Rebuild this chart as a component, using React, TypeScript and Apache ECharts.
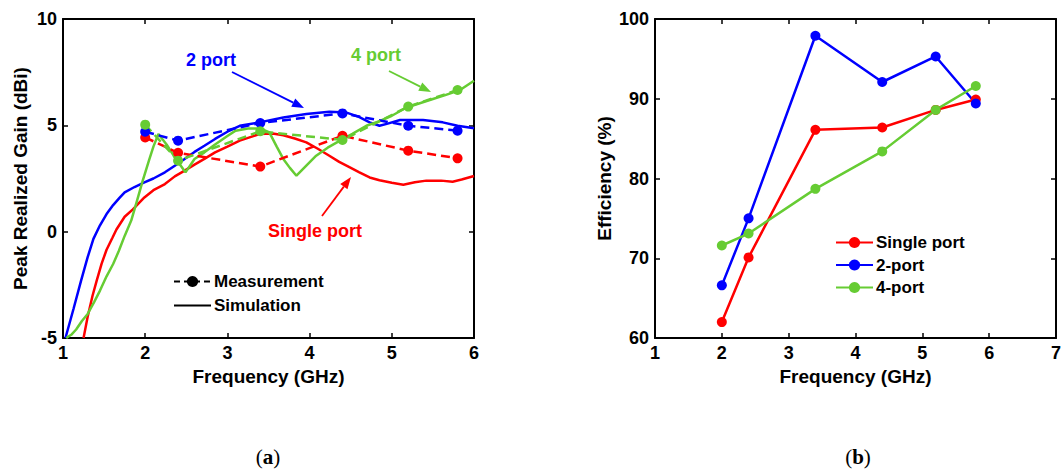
import React, { useEffect, useRef } from "react";
import * as echarts from "echarts";

// ---------- data ----------
const measFreq = [2, 2.4, 3.4, 4.4, 5.2, 5.8];
const gainMeasSingle = [4.43, 3.71, 3.06, 4.51, 3.81, 3.45];
const gainMeas2 = [4.7, 4.28, 5.11, 5.56, 4.98, 4.75];
const gainMeas4 = [5.03, 3.34, 4.72, 4.31, 5.88, 6.66];

const simSingle: [number, number][] = [
  [1.25, -5], [1.3, -4.0], [1.36, -3.0], [1.41, -2.3], [1.47, -1.5], [1.53, -0.85],
  [1.6, -0.3], [1.65, 0.1], [1.75, 0.7], [1.85, 1.05], [1.99, 1.61], [2.1, 1.95],
  [2.24, 2.24], [2.36, 2.6], [2.48, 2.87], [2.6, 3.15], [2.72, 3.42], [2.85, 3.73],
  [3.0, 4.0], [3.15, 4.28], [3.39, 4.59], [3.55, 4.62], [3.68, 4.53], [3.82, 4.38],
  [3.96, 4.2], [4.1, 3.9], [4.24, 3.57], [4.36, 3.28], [4.49, 3.02], [4.6, 2.8],
  [4.73, 2.55], [4.85, 2.42], [5.0, 2.3], [5.14, 2.21], [5.28, 2.32], [5.42, 2.4],
  [5.6, 2.4], [5.74, 2.35], [5.85, 2.45], [6.0, 2.62],
];
const sim2: [number, number][] = [
  [1.03, -5], [1.13, -3.6], [1.22, -2.3], [1.3, -1.2], [1.37, -0.34], [1.45, 0.3],
  [1.53, 0.83], [1.61, 1.25], [1.69, 1.6], [1.75, 1.85], [1.87, 2.1], [1.99, 2.32],
  [2.1, 2.5], [2.24, 2.79], [2.36, 3.1], [2.48, 3.42], [2.6, 3.75], [2.72, 4.04],
  [2.85, 4.36], [3.0, 4.7], [3.15, 4.98], [3.39, 5.14], [3.68, 5.37], [3.96, 5.53],
  [4.24, 5.64], [4.45, 5.6], [4.6, 5.4], [4.73, 5.14], [4.85, 4.98], [4.95, 5.08],
  [5.1, 5.25], [5.38, 5.25], [5.62, 5.14], [5.8, 4.98], [6.0, 4.86],
];
const sim4: [number, number][] = [
  [1.04, -5], [1.1, -4.85], [1.16, -4.6], [1.23, -4.2], [1.3, -3.87], [1.38, -3.3],
  [1.45, -2.77], [1.53, -2.1], [1.61, -1.52], [1.68, -0.9], [1.75, -0.2], [1.83, 0.52],
  [1.9, 1.45], [1.97, 2.4], [2.05, 3.4], [2.1, 4.0], [2.16, 4.59], [2.26, 4.1],
  [2.36, 3.49], [2.49, 2.79], [2.6, 3.42], [2.72, 3.73], [2.85, 4.1], [3.0, 4.5],
  [3.1, 4.75], [3.25, 4.85], [3.4, 4.85], [3.51, 4.67], [3.6, 4.0], [3.68, 3.42],
  [3.76, 3.0], [3.84, 2.63], [3.96, 3.1], [4.08, 3.57], [4.22, 3.95], [4.37, 4.28],
  [4.52, 4.6], [4.69, 4.98], [4.85, 5.2], [5.0, 5.45], [5.18, 5.84], [5.35, 6.05],
  [5.5, 6.24], [5.65, 6.42], [5.83, 6.66], [6.0, 7.1],
];

const effSingle = [62.0, 70.1, 86.1, 86.4, 88.6, 89.9];
const eff2 = [66.6, 75.0, 97.9, 92.1, 95.3, 89.4];
const eff4 = [71.6, 73.1, 78.7, 83.4, 88.6, 91.6];

const gainTicks = { min: -5, max: 10, interval: 5 };
const gainFreqTicks = { min: 1, max: 6, interval: 1 };
const effTicks = { min: 60, max: 100, interval: 10 };
const effFreqTicks = { min: 1, max: 7, interval: 1 };

// ---------- styles ----------
const RED = "#ff0000";
const BLUE = "#0000ff";
const GREEN = "#66cc33";
const FONT = "'Liberation Sans', Arial, sans-serif";

const pair = (xs: number[], ys: number[]) => xs.map((x, i) => [x, ys[i]]);

function axisCommon(showLabel: boolean) {
  return {
    type: "value" as const,
    axisLine: { show: true, onZero: false, lineStyle: { color: "#000", width: 2 } },
    axisTick: { show: true, inside: true, length: 5, lineStyle: { color: "#000", width: 1.5 } },
    axisLabel: {
      show: showLabel,
      color: "#000",
      fontWeight: "bold",
      fontSize: 18,
      fontFamily: FONT,
      margin: 6,
    },
    splitLine: { show: false },
    nameTextStyle: { color: "#000", fontWeight: "bold", fontSize: 19, fontFamily: FONT },
  };
}

function arrow(x0: number, y0: number, x1: number, y1: number, color: string) {
  const dx = x1 - x0, dy = y1 - y0;
  const len = Math.sqrt(dx * dx + dy * dy);
  const ux = dx / len, uy = dy / len;
  const L = 12, W = 9;
  const bx = x1 - ux * L, by = y1 - uy * L;
  return [
    { type: "line", shape: { x1: x0, y1: y0, x2: bx, y2: by }, style: { stroke: color, lineWidth: 1.8 } },
    {
      type: "polygon",
      shape: { points: [[x1, y1], [bx - uy * W / 2, by + ux * W / 2], [bx + uy * W / 2, by - ux * W / 2]] },
      style: { fill: color },
    },
  ];
}

function annText(x: number, y: number, text: string, color: string) {
  return {
    type: "text",
    x, y,
    style: {
      text, fill: color, font: `bold 18px ${FONT}`,
      textAlign: "center", textVerticalAlign: "middle",
    },
  };
}

export default function App() {
  const ref = useRef<HTMLDivElement>(null);
  useEffect(() => {
    if (!ref.current) return;
    const chart = echarts.init(ref.current, undefined, { renderer: "svg" });
    const measStyle = (color: string, name: string, ys: number[]) => ({
      name, type: "line", xAxisIndex: 0, yAxisIndex: 0,
      data: pair(measFreq, ys),
      symbol: "circle", symbolSize: 10, showSymbol: true,
      lineStyle: { color, width: 2.5, type: [9, 5] },
      itemStyle: { color },
      z: 3,
    });
    const simStyle = (color: string, name: string, d: [number, number][]) => ({
      name, type: "line", xAxisIndex: 0, yAxisIndex: 0,
      data: d, symbol: "none", smooth: false,
      lineStyle: { color, width: 2.5 },
      itemStyle: { color },
      z: 2,
    });
    const effStyle = (color: string, name: string, ys: number[]) => ({
      name, type: "line", xAxisIndex: 2, yAxisIndex: 2,
      data: pair(measFreq, ys),
      symbol: "circle", symbolSize: 10,
      lineStyle: { color, width: 2.5 },
      itemStyle: { color },
    });

    const legendText = { color: "#000", fontWeight: "bold", fontSize: 17, fontFamily: FONT, padding: [0, 0, 0, -2] };

    const option: any = {
      animation: false,
      backgroundColor: "#fff",
      grid: [
        { left: 63, top: 19, width: 411, height: 319, containLabel: false },
        { left: 655, top: 19, width: 407, height: 319, containLabel: false },
      ],
      xAxis: [
        { ...axisCommon(true), gridIndex: 0, position: "bottom", ...gainFreqTicks, name: "Frequency (GHz)", nameLocation: "middle", nameGap: 24 },
        { ...axisCommon(false), gridIndex: 0, position: "top", ...gainFreqTicks },
        { ...axisCommon(true), gridIndex: 1, position: "bottom", ...effFreqTicks, name: "Frequency (GHz)", nameLocation: "middle", nameGap: 24 },
        { ...axisCommon(false), gridIndex: 1, position: "top", ...effFreqTicks },
      ],
      yAxis: [
        { ...axisCommon(true), gridIndex: 0, position: "left", ...gainTicks, name: "Peak Realized Gain (dBi)", nameLocation: "middle", nameGap: 33 },
        { ...axisCommon(false), gridIndex: 0, position: "right", ...gainTicks },
        { ...axisCommon(true), gridIndex: 1, position: "left", ...effTicks, name: "Efficiency (%)", nameLocation: "middle", nameGap: 41 },
        { ...axisCommon(false), gridIndex: 1, position: "right", ...effTicks },
      ],
      legend: [
        {
          data: ["Measurement", { name: "Simulation", itemStyle: { opacity: 0 } }],
          orient: "vertical", left: 168, top: 268,
          itemWidth: 37, itemHeight: 14, itemGap: 7,
          textStyle: legendText,
          selectedMode: false,
        },
        {
          data: ["Single port", "2-port", "4-port"],
          orient: "vertical", left: 830, top: 229,
          itemWidth: 37, itemHeight: 14, itemGap: 5.5,
          textStyle: legendText,
          selectedMode: false,
        },
      ],
      series: [
        simStyle(RED, "Single port (sim)", simSingle),
        simStyle(BLUE, "2 port (sim)", sim2),
        simStyle(GREEN, "4 port (sim)", sim4),
        measStyle(RED, "Single port (meas)", gainMeasSingle),
        measStyle(BLUE, "2 port (meas)", gainMeas2),
        measStyle(GREEN, "4 port (meas)", gainMeas4),
        {
          name: "Measurement", type: "line", xAxisIndex: 0, yAxisIndex: 0, data: [],
          symbol: "circle", symbolSize: 10,
          lineStyle: { color: "#000", width: 2.5, type: [6, 4] }, itemStyle: { color: "#000" },
        },
        {
          name: "Simulation", type: "line", xAxisIndex: 0, yAxisIndex: 0, data: [],
          symbol: "none", lineStyle: { color: "#000", width: 2.5 }, itemStyle: { color: "#000" },
        },
        effStyle(RED, "Single port", effSingle),
        effStyle(BLUE, "2-port", eff2),
        effStyle(GREEN, "4-port", eff4),
      ],
      graphic: [
        annText(211, 60, "2 port", BLUE),
        ...arrow(232, 72, 304, 108, BLUE),
        annText(376, 55, "4 port", GREEN),
        ...arrow(389, 71, 431, 92, GREEN),
        annText(315, 231, "Single port", RED),
        ...arrow(322, 216, 351, 177, RED),
        {
          type: "text", x: 268, y: 457,
          style: {
            text: "({b|a})", textAlign: "center", textVerticalAlign: "middle",
            font: "21px 'Liberation Serif', serif", fill: "#000",
            rich: { b: { font: "bold 21px 'Liberation Serif', serif", fill: "#000" } },
          },
        },
        {
          type: "text", x: 858, y: 457,
          style: {
            text: "({b|b})", textAlign: "center", textVerticalAlign: "middle",
            font: "21px 'Liberation Serif', serif", fill: "#000",
            rich: { b: { font: "bold 21px 'Liberation Serif', serif", fill: "#000" } },
          },
        },
      ],
    };
    chart.setOption(option);
    return () => chart.dispose();
  }, []);
  return (
    <div
      ref={ref}
      style={{ position: "fixed", left: 0, top: 0, width: 1064, height: 473, background: "#fff" }}
    />
  );
}
